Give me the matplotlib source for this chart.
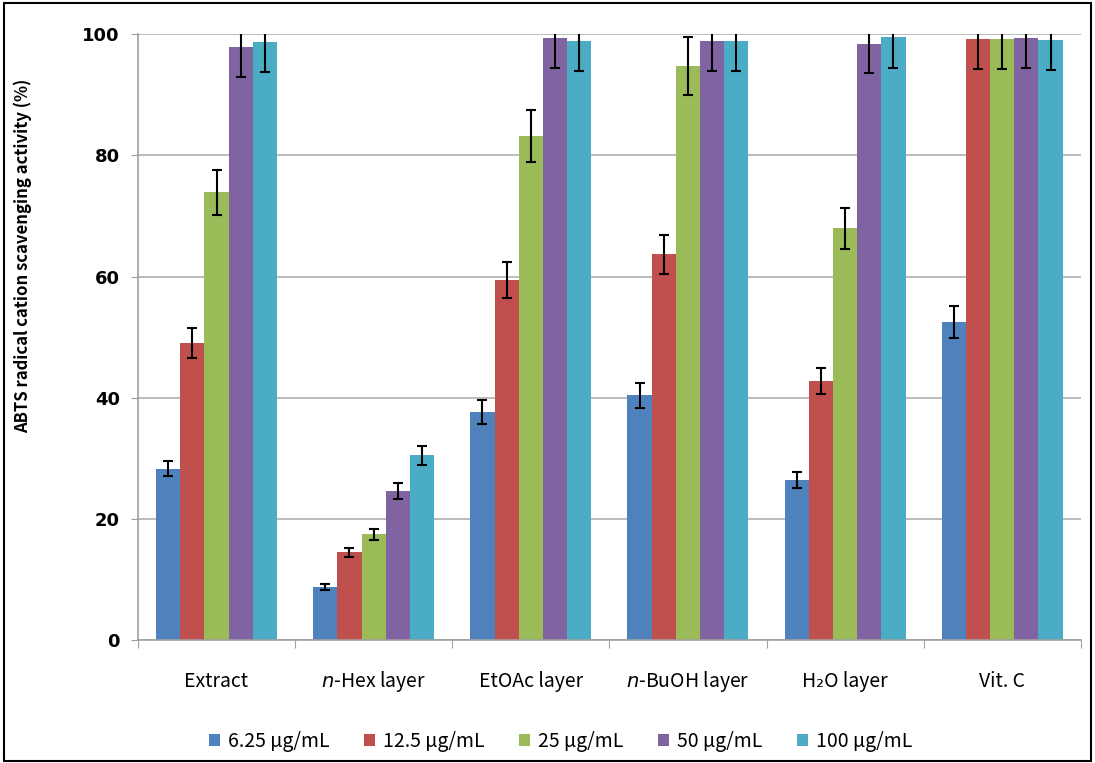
import matplotlib
matplotlib.use("Agg")
import matplotlib.pyplot as plt
import numpy as np

categories = ["Extract", r"$\it{n}$-Hex layer", "EtOAc layer", r"$\it{n}$-BuOH layer", "H₂O layer", "Vit. C"]
doses = ["6.25 μg/mL", "12.5 μg/mL", "25 μg/mL", "50 μg/mL", "100 μg/mL"]

# mean values per dose, one entry per category
v625 = [28.3, 8.8, 37.6, 40.4, 26.4, 52.5]
v125 = [49.1, 14.5, 59.5, 63.7, 42.8, 99.2]
v25 = [73.9, 17.5, 83.2, 94.8, 68.0, 99.3]
v50 = [97.9, 24.6, 99.4, 98.9, 98.4, 99.4]
v100 = [98.8, 30.5, 98.9, 98.9, 99.5, 99.1]

# error bars
e625 = [1.2, 0.5, 2.0, 2.0, 1.3, 2.6]
e125 = [2.5, 0.7, 3.0, 3.2, 2.1, 5.0]
e25 = [3.7, 0.9, 4.3, 4.8, 3.4, 5.0]
e50 = [4.9, 1.3, 4.9, 5.0, 4.8, 5.0]
e100 = [5.0, 1.6, 5.0, 5.0, 5.0, 5.0]

colors = ["#4F81BD", "#C0504D", "#9BBB59", "#8064A2", "#4BACC6"]

plt.rcParams["mathtext.fontset"] = "dejavusans"
fam = ["Noto Sans CJK KR", "DejaVu Sans"]

fig = plt.figure(figsize=(10.95, 7.63), dpi=100)
ax = fig.add_axes([0.126, 0.161, 0.861, 0.794])

values = [v625, v125, v25, v50, v100]
errors = [e625, e125, e25, e50, e100]
x = np.arange(len(categories))
width = 0.154

for i in range(len(doses)):
	pos = x + (i - 2) * width
	ax.bar(pos, values[i], width=width, color=colors[i], label=doses[i], zorder=2)
	ax.errorbar(pos, values[i], yerr=errors[i], fmt="none", ecolor="black",
		elinewidth=1.5, capsize=3.5, capthick=1.5, zorder=3)

ax.set_xlim(-0.5, 5.5)
ax.set_ylim(0, 100)
ax.set_yticks(np.arange(0, 101, 20))
ax.yaxis.grid(True, color="#b0b0b0", linewidth=1.2, zorder=0)
ax.set_axisbelow(True)

for s in ["top", "right"]:
	ax.spines[s].set_visible(False)
for s in ["left", "bottom"]:
	ax.spines[s].set_color("#a0a0a0")
	ax.spines[s].set_linewidth(1.2)

# category labels between boundary ticks
ax.set_xticks(np.arange(-0.5, 6, 1.0))
ax.set_xticklabels([])
ax.tick_params(axis="x", length=6, color="#a0a0a0")
for i, c in enumerate(categories):
	ax.text(x[i], -6.8, c, ha="center", va="center", fontsize=14, family=fam)

ax.tick_params(axis="y", length=5, color="#a0a0a0", pad=8)
for lbl in ax.get_yticklabels():
	lbl.set_fontweight("bold")
	lbl.set_fontsize(13)

fig.text(0.021, 0.665, "ABTS radical cation scavenging activity (%)", rotation=90,
	ha="center", va="center", fontsize=12, fontweight="bold", family=fam)

fig.legend(loc="center", bbox_to_anchor=(0.512, 0.028), ncol=5, frameon=False,
	handlelength=0.55, handleheight=0.55, handletextpad=0.4, columnspacing=1.8,
	prop={"family": fam, "size": 14})

# outer frame
fig.patches.append(plt.Rectangle((0.004, 0.003), 0.992, 0.993, transform=fig.transFigure,
	fill=False, edgecolor="black", linewidth=1.5))

plt.savefig("out.png", dpi=100)
